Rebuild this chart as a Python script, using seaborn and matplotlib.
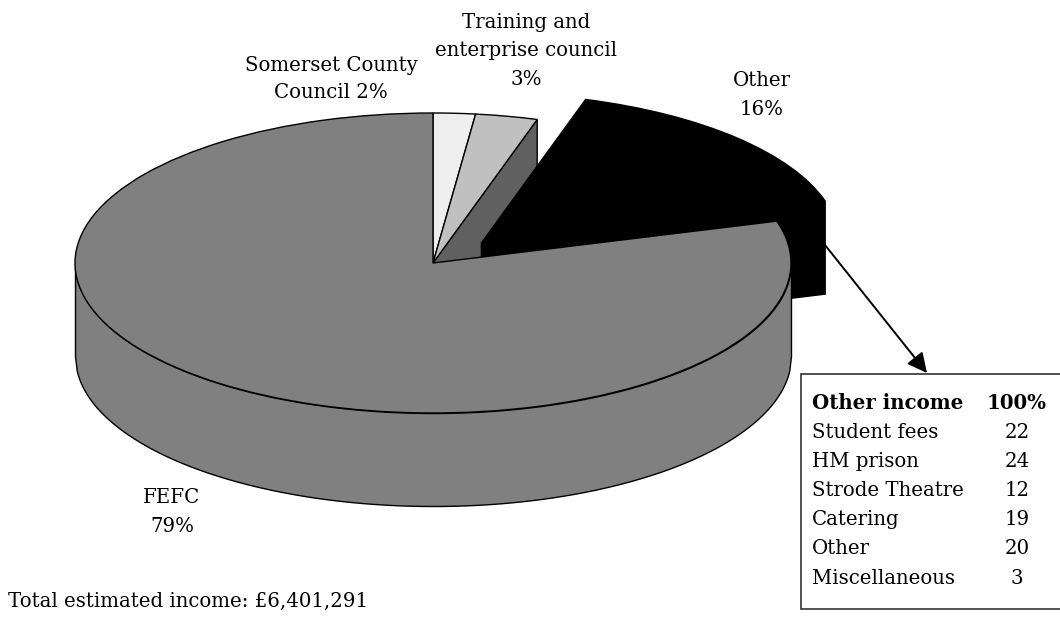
import numpy as np
import seaborn as sns
from matplotlib import pyplot as plt
from matplotlib.patches import Polygon, Rectangle

# income split (labels are rounded)
sources = ['Somerset County Council', 'Training and enterprise council', 'Other', 'FEFC']
shares = [1.9, 2.8, 15.8, 79.5]
explode = [0, 0, 0.19, 0]
palette = ['#eeeeee', '#c0c0c0', '#000000', '#808080']

other_items = ['Student fees', 'HM prison', 'Strode Theatre', 'Catering', 'Other', 'Miscellaneous']
other_pct = [22, 24, 12, 19, 20, 3]

W, H = 1060, 618
cx, cy = 433, 263      # pie centre in pixels
rx, ry = 358, 150      # ellipse radii in pixels
depth = 93 / ry        # wall height in data units

sns.set_theme(style='white')
plt.rcParams['font.family'] = ['DejaVu Serif']

fig = plt.figure(figsize=(W / 100, H / 100), dpi=100)
ax = fig.add_axes([0, 0, 1, 1])

wedges, _ = ax.pie(shares, explode=explode, colors=sns.color_palette(palette),
                   startangle=90, counterclock=False,
                   wedgeprops={'edgecolor': 'black', 'linewidth': 1})

# pie forces a round aspect, the axes limits squash it into an ellipse
ax.set_aspect('auto')
ax.set_xlim(-cx / rx, (W - cx) / rx)
ax.set_ylim((cy - H) / ry, cy / ry)


def rim(wedge, angle):
    a = np.deg2rad(angle)
    return wedge.center[0] + wedge.r * np.cos(a), wedge.center[1] + wedge.r * np.sin(a)


def wall(p, q, **kw):
    pts = [p, q, (q[0], q[1] - depth), (p[0], p[1] - depth)]
    ax.add_patch(Polygon(pts, closed=True, **kw))


somerset, training, other, fefc = wedges

# cut face left behind by the pulled out slice
wall((0, 0), rim(training, training.theta1), facecolor='#606060', edgecolor='black', lw=1, zorder=1)

# pulled out slice
wall(other.center, rim(other, other.theta1), facecolor='black', edgecolor='black', lw=1, zorder=2)
other.set_zorder(3)

# front wall of the main slice
x = np.linspace(-1, 1, 400)
front = -np.sqrt(1 - x ** 2)
ax.fill_between(x, front - depth, front, facecolor=palette[3], edgecolor='black', lw=1, zorder=4)
fefc.set_zorder(5)
somerset.set_zorder(5)
training.set_zorder(5)


def txt(px, py, s, **kw):
    fig.text(px / W, 1 - py / H, s, va='center', color='black', fontsize=14.2, **kw)


txt(526, 51, 'Training and\nenterprise council\n3%', ha='center', linespacing=1.62)
txt(331, 79, 'Somerset County\nCouncil 2%', ha='center', linespacing=1.55)
txt(762, 95, 'Other\n16%', ha='center', linespacing=1.62)
txt(172, 512, 'FEFC\n79%', ha='center', linespacing=1.62)
txt(8, 601, 'Total estimated income: £6,401,291', ha='left')

# breakdown box, runs off the right edge
fig.add_artist(Rectangle((801 / W, 1 - 609 / H), 270 / W, 235 / H, transform=fig.transFigure,
                         facecolor='white', edgecolor='#333333', lw=1.2))
txt(812, 403, 'Other income', ha='left', fontweight='bold')
txt(1017, 403, '100%', ha='center', fontweight='bold')
for i, (item, pct) in enumerate(zip(other_items, other_pct)):
    py = 432 + i * 29.2
    txt(812, py, item, ha='left')
    txt(1017, py, str(pct), ha='center')

ax.annotate('', xy=(927, H - 373), xytext=(825, H - 245),
            xycoords='figure pixels', textcoords='figure pixels', zorder=6,
            arrowprops={'arrowstyle': '-|>', 'color': 'black', 'lw': 1.4,
                        'mutation_scale': 30, 'shrinkA': 0, 'shrinkB': 0})

fig.savefig('out.png', dpi=100, facecolor='white')
